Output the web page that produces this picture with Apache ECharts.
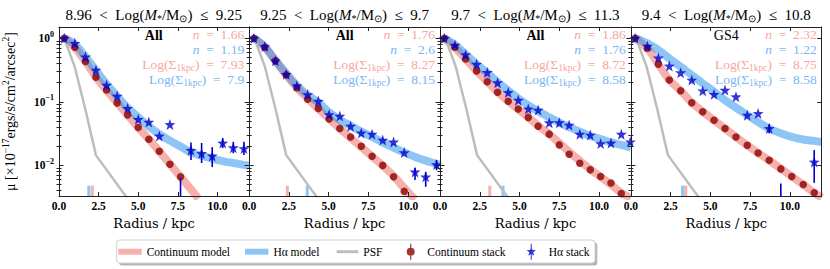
<!DOCTYPE html>
<html><head><meta charset="utf-8">
<script src="https://cdn.jsdelivr.net/npm/echarts@6/dist/echarts.min.js"></script>
<style>html,body{margin:0;padding:0;background:#fff}#c{width:830px;height:269px}</style>
</head><body><div id="c"></div>
<script>
// ---------------- data ----------------
const radiusTicks = [0, 2.5, 5, 7.5, 10];
const yMajorTicks = [0.01, 0.1, 1];
const yMinorTicks = [0.004,0.005,0.006,0.007,0.008,0.009,0.02,0.03,0.04,0.05,0.06,0.07,0.08,0.09,0.2,0.3,0.4,0.5,0.6,0.7,0.8,0.9];
const titleLow = ['8.96','9.25','9.7','9.4'];
const titleHigh = ['9.25','9.7','11.3','10.8'];
const sampleLabel = ['All','All','All','GS4'];
const nCont = ['1.66','1.76','1.86','2.32'];
const nHa = ['1.19','2.6','1.76','1.22'];
const sigmaCont = ['7.93','8.27','8.72','8.75'];
const sigmaHa = ['7.9','8.15','8.58','8.58'];

const psfR = [0.33,1.0,1.67,2.33,4.33];
const psfV = [1.0,0.35,0.075,0.0145,0.003];

const rugContR = [2.1,2.4,3.13,3.45];
const rugHaR = [1.88,3.65,3.96,3.25];
const rugTop = 0.0048;

// panel 1
const p1ContR = [0.33,1.0,1.67,2.33,3.0,3.67,4.33,5.0,5.67,6.33,7.0,7.67];
const p1ContV = [1.0,0.72,0.43,0.243,0.153,0.096,0.062,0.0394,0.0258,0.0167,0.0104,0.0066];
const p1HaR = [0.33,1.0,1.67,2.33,3.0,3.67,4.33,5.0,5.67,6.33,7.0,8.33,9.0,9.67,10.33,11.0,11.67];
const p1HaV = [1.0,0.83,0.51,0.316,0.183,0.123,0.079,0.053,0.048,0.029,0.044,0.0173,0.0154,0.0141,0.0225,0.019,0.0184];
const p1ErrR = [7.67,8.33,9.0,9.67,10.33,11.0,11.67];
const p1ErrLo = [0.002,0.0121,0.0109,0.0094,0.0187,0.0155,0.0145];
const p1ErrHi = [0.0062,0.023,0.0225,0.0194,0.0269,0.0235,0.0235];
const p1ContModR = [0.33,1,1.67,2.33,3,3.67,4.33,5,5.67,6.33,7,7.67,8.33,8.8];
const p1ContModV = [1.0,0.71,0.43,0.245,0.152,0.097,0.062,0.0395,0.0258,0.0166,0.0105,0.0066,0.0042,0.003];
const p1HaModR = [0.33,1,1.67,2.33,3,3.67,4.33,5,5.67,6.33,7,7.67,8.33,9,9.67,10.33,11,11.67,12];
const p1HaModV = [1.0,0.8,0.51,0.31,0.19,0.122,0.08,0.057,0.041,0.031,0.0245,0.0198,0.016,0.0142,0.0128,0.0117,0.0109,0.0102,0.0099];

// panel 2
const p2ContR = [0.3,0.98,1.65,2.33,3.0,3.68,4.35,5.03,5.7,6.38,7.05,7.73,8.4,9.08,9.75];
const p2ContV = [1.0,0.72,0.44,0.265,0.166,0.11,0.0787,0.0535,0.038,0.028,0.02,0.0139,0.01,0.0066,0.0039];
const p2HaR = [0.3,0.98,1.65,2.33,3.0,3.68,4.35,5.03,5.7,6.38,7.05,7.73,8.4,9.08,9.75,10.43,11.1,11.78];
const p2HaV = [1.0,0.74,0.44,0.27,0.179,0.13,0.102,0.063,0.0596,0.0414,0.0324,0.031,0.025,0.0234,0.0159,0.0079,0.0066,0.0103];
const p2ErrR = [10.43,11.1,11.78];
const p2ErrLo = [0.0059,0.0046,0.0084];
const p2ErrHi = [0.0091,0.0079,0.0121];
const p2ContModR = [0.3,0.98,1.65,2.33,3.0,3.68,4.35,5.03,5.7,6.38,7.05,7.73,8.4,9.08,9.75,10.43];
const p2ContModV = [1.0,0.72,0.44,0.265,0.168,0.112,0.078,0.054,0.038,0.027,0.0195,0.0138,0.0099,0.0068,0.0044,0.0029];
const p2HaModR = [0.3,0.98,1.65,2.33,3.0,3.68,4.35,5.03,5.7,6.38,7.05,7.73,8.4,9.08,9.75,10.43,11.1,11.78,12];
const p2HaModV = [1.0,0.74,0.45,0.28,0.18,0.127,0.098,0.068,0.052,0.042,0.034,0.028,0.023,0.019,0.016,0.0136,0.0119,0.0106,0.0101];

// panel 3
const p3ContR = [0.27,0.94,1.61,2.3,2.97,3.62,4.29,4.92,5.55,6.17,6.87,7.5,8.12,8.79,9.45,10.1,10.75,11.4];
const p3ContV = [1.0,0.72,0.47,0.305,0.207,0.141,0.102,0.077,0.0568,0.0414,0.031,0.021,0.015,0.0108,0.0085,0.0067,0.0053,0.0036];
const p3HaR = [0.27,0.94,1.61,2.3,2.97,3.62,4.29,4.92,5.55,6.17,6.87,7.5,8.12,8.79,9.45,10.1,10.75,11.4,11.97];
const p3HaV = [1.0,0.78,0.55,0.39,0.29,0.2,0.14,0.106,0.077,0.074,0.047,0.047,0.043,0.031,0.03,0.022,0.0225,0.031,0.0235];
const p3ErrR = [];
const p3ErrLo = [];
const p3ErrHi = [];
const p3ContModR = [0.27,0.94,1.61,2.3,2.97,3.62,4.29,4.92,5.55,6.17,6.87,7.5,8.12,8.79,9.45,10.1,10.75,11.4,12];
const p3ContModV = [1.0,0.71,0.47,0.305,0.207,0.142,0.102,0.076,0.057,0.042,0.031,0.0225,0.0163,0.0118,0.0087,0.0066,0.005,0.0037,0.0031];
const p3HaModR = [0.27,0.94,1.61,2.3,2.97,3.62,4.29,4.92,5.55,6.17,6.87,7.5,8.12,8.79,9.45,10.1,10.75,11.4,12];
const p3HaModV = [1.0,0.79,0.56,0.39,0.285,0.205,0.15,0.113,0.088,0.071,0.057,0.047,0.04,0.034,0.029,0.026,0.023,0.021,0.019];

// panel 4
const p4ContR = [0.27,1.04,1.73,2.42,3.13,3.83,4.52,5.23,5.92,6.61,7.32,8.0,8.7,9.43,10.12,10.84,11.53];
const p4ContV = [1.0,0.695,0.39,0.22,0.149,0.0964,0.0695,0.0514,0.038,0.028,0.0207,0.0157,0.012,0.0088,0.0067,0.005,0.0037];
const p4HaR = [0.27,1.04,1.73,2.42,3.13,3.83,4.52,5.23,5.92,6.61,7.32,8.0,8.7,11.53];
const p4HaV = [1.0,0.75,0.49,0.366,0.287,0.22,0.149,0.131,0.153,0.12,0.0617,0.0656,0.038,0.0113];
const p4ErrR = [8.7,9.43,11.53];
const p4ErrLo = [0.0319,0.002,0.0053];
const p4ErrHi = [0.0446,0.0052,0.0174];
const p4ContModR = [0.27,1.04,1.73,2.42,3.13,3.83,4.52,5.23,5.92,6.61,7.32,8.0,8.7,9.43,10.12,10.84,11.53,12];
const p4ContModV = [1.0,0.69,0.39,0.22,0.149,0.097,0.07,0.0515,0.038,0.028,0.0207,0.0157,0.012,0.0089,0.0067,0.005,0.0037,0.0031];
const p4HaModR = [0.27,1.04,1.73,2.42,3.13,3.83,4.52,5.23,5.92,6.61,7.32,8.0,8.7,9.43,10.12,10.84,11.53,12];
const p4HaModV = [1.0,0.83,0.65,0.48,0.356,0.263,0.195,0.144,0.106,0.081,0.062,0.048,0.038,0.032,0.028,0.0255,0.0243,0.0234];

// ---------------- styling / layout ----------------
const YMIN = 0.0033, YMAX = 1.5, XMIN = 0, XMAX = 12;
const GL = 58.3, GW = 190.85, GT = 27, GH = 169;
const PINK = 'rgba(240,100,90,0.5)', BLUE = 'rgba(30,140,240,0.5)', GREY = '#bdbdbd';
const PINK_T = 'rgb(246,166,158)', BLUE_T = 'rgb(122,182,245)';
const DRED = '#8b0000', DBLUE = '#0000cc';
const SERIF = "'Liberation Serif', 'Times New Roman', serif";
const WIDE_SERIF = "'DejaVu Serif', serif";
const STAR = 'path://M5,3 L6.176,6.382 L9.755,6.455 L6.902,8.618 L7.939,12.045 L5,10 L2.061,12.045 L3.098,8.618 L0.245,6.455 L3.824,6.382 Z';
const STAR_LEG = 'path://M4.5,0H5.5V16H4.5Z M5,3 L6.176,6.382 L9.755,6.455 L6.902,8.618 L7.939,12.045 L5,10 L2.061,12.045 L3.098,8.618 L0.245,6.455 L3.824,6.382 Z';
const DOT_LEG = 'path://M4.4,0H5.6V16H4.4Z M1,8A4,4 0 1 1 9,8A4,4 0 1 1 1,8Z';
const EN = '\u2002';

const panels = [
  {contR:p1ContR, contV:p1ContV, haR:p1HaR, haV:p1HaV, errR:p1ErrR, errLo:p1ErrLo, errHi:p1ErrHi, cmR:p1ContModR, cmV:p1ContModV, hmR:p1HaModR, hmV:p1HaModV},
  {contR:p2ContR, contV:p2ContV, haR:p2HaR, haV:p2HaV, errR:p2ErrR, errLo:p2ErrLo, errHi:p2ErrHi, cmR:p2ContModR, cmV:p2ContModV, hmR:p2HaModR, hmV:p2HaModV},
  {contR:p3ContR, contV:p3ContV, haR:p3HaR, haV:p3HaV, errR:p3ErrR, errLo:p3ErrLo, errHi:p3ErrHi, cmR:p3ContModR, cmV:p3ContModV, hmR:p3HaModR, hmV:p3HaModV},
  {contR:p4ContR, contV:p4ContV, haR:p4HaR, haV:p4HaV, errR:p4ErrR, errLo:p4ErrLo, errHi:p4ErrHi, cmR:p4ContModR, cmV:p4ContModV, hmR:p4HaModR, hmV:p4HaModV}
];

const zip = (a, b) => a.map((x, i) => [x, b[i]]);

function segSeries(name, xs, lo, hi, color, width, g, z) {
  return {
    type: 'custom', name, xAxisIndex: g * 2, yAxisIndex: g * 4, clip: true, z, silent: true,
    data: xs.map((x, i) => [x, lo[i], hi[i]]),
    renderItem: (params, api) => {
      const a = api.coord([api.value(0), api.value(1)]);
      const b = api.coord([api.value(0), api.value(2)]);
      return { type: 'line', shape: { x1: a[0], y1: a[1], x2: b[0], y2: b[1] },
               style: { stroke: color, lineWidth: width } };
    }
  };
}

const grids = [], xAxes = [], yAxes = [], series = [], graphics = [];
const tickLine = { color: '#222', width: 1 };

panels.forEach((p, g) => {
  const left = GL + g * GW;
  grids.push({ left, top: GT, width: GW, height: GH, show: false });
  xAxes.push({
    type: 'value', gridIndex: g, min: XMIN, max: XMAX, position: 'bottom', z: 10,
    axisLine: { show: true, onZero: false, lineStyle: tickLine },
    axisTick: { show: true, inside: true, length: 4, customValues: radiusTicks, lineStyle: tickLine },
    axisLabel: { show: true, customValues: radiusTicks, formatter: v => v.toFixed(1), margin: 4,
      fontFamily: SERIF, fontWeight: 'bold', fontSize: 11.5, color: '#000' },
    splitLine: { show: false },
    name: 'Radius / kpc', nameLocation: 'middle', nameGap: 15,
    nameTextStyle: { fontFamily: WIDE_SERIF, fontSize: 13, color: '#000' }
  });
  xAxes.push({
    type: 'value', gridIndex: g, min: XMIN, max: XMAX, position: 'top', z: 10,
    axisLine: { show: true, onZero: false, lineStyle: tickLine },
    axisTick: { show: true, inside: true, length: 4, customValues: radiusTicks, lineStyle: tickLine },
    axisLabel: { show: false }, splitLine: { show: false }
  });
  const yBase = { type: 'log', logBase: 10, gridIndex: g, min: YMIN, max: YMAX, z: 10, splitLine: { show: false } };
  yAxes.push(Object.assign({}, yBase, {
    position: 'left',
    axisLine: { show: true, onZero: false, lineStyle: tickLine },
    axisTick: { show: true, inside: true, length: 4.5, customValues: yMajorTicks, lineStyle: tickLine },
    axisLabel: { show: g === 0, customValues: yMajorTicks, margin: 5,
      formatter: v => { const e = Math.round(Math.log10(v)); return '{b|10}{s|' + (e < 0 ? '\u2212' + (-e) : e) + '}'; },
      rich: { b: { fontFamily: SERIF, fontWeight: 'bold', fontSize: 11.5, color: '#000' },
              s: { fontFamily: SERIF, fontWeight: 'bold', fontSize: 8, color: '#000', padding: [0, 0, 8, 0] } } },
    name: g === 0 ? '{t|\u03bc [\u00d710}{s|\u221217}{t|ergs/s/cm}{s|2}{t|/arcsec}{s|2}{t|]}' : '',
    nameLocation: 'middle', nameGap: 40, nameRotate: 90,
    nameTextStyle: { rich: {
      t: { fontFamily: SERIF, fontSize: 14, color: '#000' },
      s: { fontFamily: SERIF, fontSize: 9.5, color: '#000', padding: [0, 0, 8, 0] } } }
  }));
  yAxes.push(Object.assign({}, yBase, {
    position: 'right',
    axisLine: { show: true, onZero: false, lineStyle: tickLine },
    axisTick: { show: true, inside: true, length: 4.5, customValues: yMajorTicks, lineStyle: tickLine },
    axisLabel: { show: false }
  }));
  yAxes.push(Object.assign({}, yBase, {
    position: 'left', axisLine: { show: false },
    axisTick: { show: true, inside: true, length: 2.5, customValues: yMinorTicks, lineStyle: tickLine },
    axisLabel: { show: false }
  }));
  yAxes.push(Object.assign({}, yBase, {
    position: 'right', axisLine: { show: false },
    axisTick: { show: true, inside: true, length: 2.5, customValues: yMinorTicks, lineStyle: tickLine },
    axisLabel: { show: false }
  }));

  const xi = g * 2, yi = g * 4;
  series.push({ type: 'line', name: 'Continuum model', xAxisIndex: xi, yAxisIndex: yi, z: 2,
    data: zip(p.cmR, p.cmV), showSymbol: false, symbol: 'none', smooth: 0.3, silent: true,
    itemStyle: { color: PINK }, lineStyle: { color: PINK, width: 8, cap: 'butt' } });
  series.push({ type: 'line', name: 'H\u03b1 model', xAxisIndex: xi, yAxisIndex: yi, z: 2,
    data: zip(p.hmR, p.hmV), showSymbol: false, symbol: 'none', smooth: 0.3, silent: true,
    itemStyle: { color: BLUE }, lineStyle: { color: BLUE, width: 8, cap: 'butt' } });
  series.push({ type: 'line', name: 'PSF', xAxisIndex: xi, yAxisIndex: yi, z: 2,
    data: zip(psfR, psfV), showSymbol: false, symbol: 'none', smooth: false, silent: true,
    itemStyle: { color: GREY }, lineStyle: { color: GREY, width: 2.5 } });
  series.push(segSeries('rugCont', [rugContR[g]], [0.003], [rugTop], PINK, 3, g, 2));
  series.push(segSeries('rugHa', [rugHaR[g]], [0.003], [rugTop], BLUE, 3, g, 2));
  series.push({ type: 'scatter', name: 'Continuum stack', xAxisIndex: xi, yAxisIndex: yi, z: 4,
    data: zip(p.contR, p.contV), symbol: 'circle', symbolSize: 7.5, silent: true,
    itemStyle: { color: DRED } });
  series.push({ type: 'scatter', name: 'H\u03b1 stack', xAxisIndex: xi, yAxisIndex: yi, z: 5,
    data: zip(p.haR, p.haV), symbol: STAR, symbolSize: 11, silent: true,
    itemStyle: { color: DBLUE } });
  series.push(segSeries('H\u03b1 stack', p.errR, p.errLo, p.errHi, DBLUE, 1.6, g, 5));

  const cx = left + GW / 2, rx = left + GW - 5;
  graphics.push({ type: 'text', x: cx, y: 15, z: 20, style: {
    text: '{a|' + titleLow[g] + EN + '<' + EN + 'Log(}{i|M}{sb|*}{a|/M}{sb|\u2299}{a|)' + EN + '\u2264' + EN + titleHigh[g] + '}',
    align: 'center', verticalAlign: 'middle', fontFamily: SERIF, fontSize: 15, fill: '#000',
    rich: { a: { fontFamily: SERIF, fontSize: 15, fill: '#000' },
            i: { fontFamily: SERIF, fontSize: 15, fontStyle: 'italic', fill: '#000' },
            sb: { fontFamily: SERIF, fontSize: 10, fill: '#000', padding: [7, 0, 0, 0] } } } });
  graphics.push({ type: 'text', x: cx, y: 35, z: 20, style: {
    text: sampleLabel[g], align: 'center', verticalAlign: 'middle', fontFamily: SERIF,
    fontSize: 14, fontWeight: sampleLabel[g] === 'All' ? 'bold' : 'normal', fill: '#000' } });
  const nLine = (val, col, y) => ({ type: 'text', x: rx, y, z: 20, style: {
    text: '{i|n}{a|' + EN + '=' + EN + val + '}', align: 'right', verticalAlign: 'middle',
    fontFamily: SERIF, fontSize: 13.5, fill: col,
    rich: { i: { fontFamily: SERIF, fontSize: 13.5, fontStyle: 'italic', fill: col },
            a: { fontFamily: SERIF, fontSize: 13.5, fill: col } } } });
  const sLine = (val, col, y) => ({ type: 'text', x: rx, y, z: 20, style: {
    text: '{a|Log(\u03a3}{sb|1kpc}{a|)' + EN + '=' + EN + val + '}', align: 'right', verticalAlign: 'middle',
    fontFamily: SERIF, fontSize: 13.5, fill: col,
    rich: { a: { fontFamily: SERIF, fontSize: 13.5, fill: col },
            sb: { fontFamily: SERIF, fontSize: 9.5, fill: col, padding: [6, 0, 0, 0] } } } });
  graphics.push(nLine(nCont[g], PINK_T, 34.5));
  graphics.push(nLine(nHa[g], BLUE_T, 49));
  graphics.push(sLine(sigmaCont[g], PINK_T, 64.5));
  graphics.push(sLine(sigmaHa[g], BLUE_T, 79.5));
});

graphics.push({ type: 'rect', z: 1, shape: { x: 119, y: 242.5, width: 478.3, height: 23, r: 3 },
  style: { fill: '#b5b5b5' } });
graphics.push({ type: 'rect', z: 2, shape: { x: 116.7, y: 240, width: 478.3, height: 23, r: 3 },
  style: { fill: '#fff', stroke: '#cfcfcf', lineWidth: 1 } });

const legText = { fontFamily: SERIF, fontSize: 11.5, color: '#000', lineHeight: 14 };
const legBase = { orient: 'horizontal', padding: 0, z: 10, selectedMode: false };
const legends = [
  Object.assign({}, legBase, { left: 118.3, top: 244.7, itemWidth: 23.4, itemHeight: 6, textStyle: legText,
    data: [{ name: 'Continuum model', icon: 'rect', itemStyle: { color: PINK } }] }),
  Object.assign({}, legBase, { left: 245, top: 244.7, itemWidth: 23.4, itemHeight: 6, textStyle: legText,
    data: [{ name: 'H\u03b1 model', icon: 'rect', itemStyle: { color: BLUE } }] }),
  Object.assign({}, legBase, { left: 336.7, top: 244.7, itemWidth: 21.6, itemHeight: 3, textStyle: legText,
    data: [{ name: 'PSF', icon: 'rect', itemStyle: { color: GREY } }] }),
  Object.assign({}, legBase, { left: 406.7, top: 243.7, itemWidth: 10, itemHeight: 16,
    textStyle: Object.assign({}, legText, { padding: [0, 0, 0, 6.6] }),
    data: [{ name: 'Continuum stack', icon: DOT_LEG, itemStyle: { color: DRED } }] }),
  Object.assign({}, legBase, { left: 526.5, top: 243.7, itemWidth: 12, itemHeight: 16,
    textStyle: Object.assign({}, legText, { padding: [0, 0, 0, 6.5] }),
    data: [{ name: 'H\u03b1 stack', icon: STAR_LEG, itemStyle: { color: DBLUE } }] })
];

const chart = echarts.init(document.getElementById('c'), null, { renderer: 'svg' });
chart.setOption({
  animation: false,
  backgroundColor: '#fff',
  grid: grids, xAxis: xAxes, yAxis: yAxes, series,
  legend: legends,
  graphic: graphics
});
</script></body></html>
